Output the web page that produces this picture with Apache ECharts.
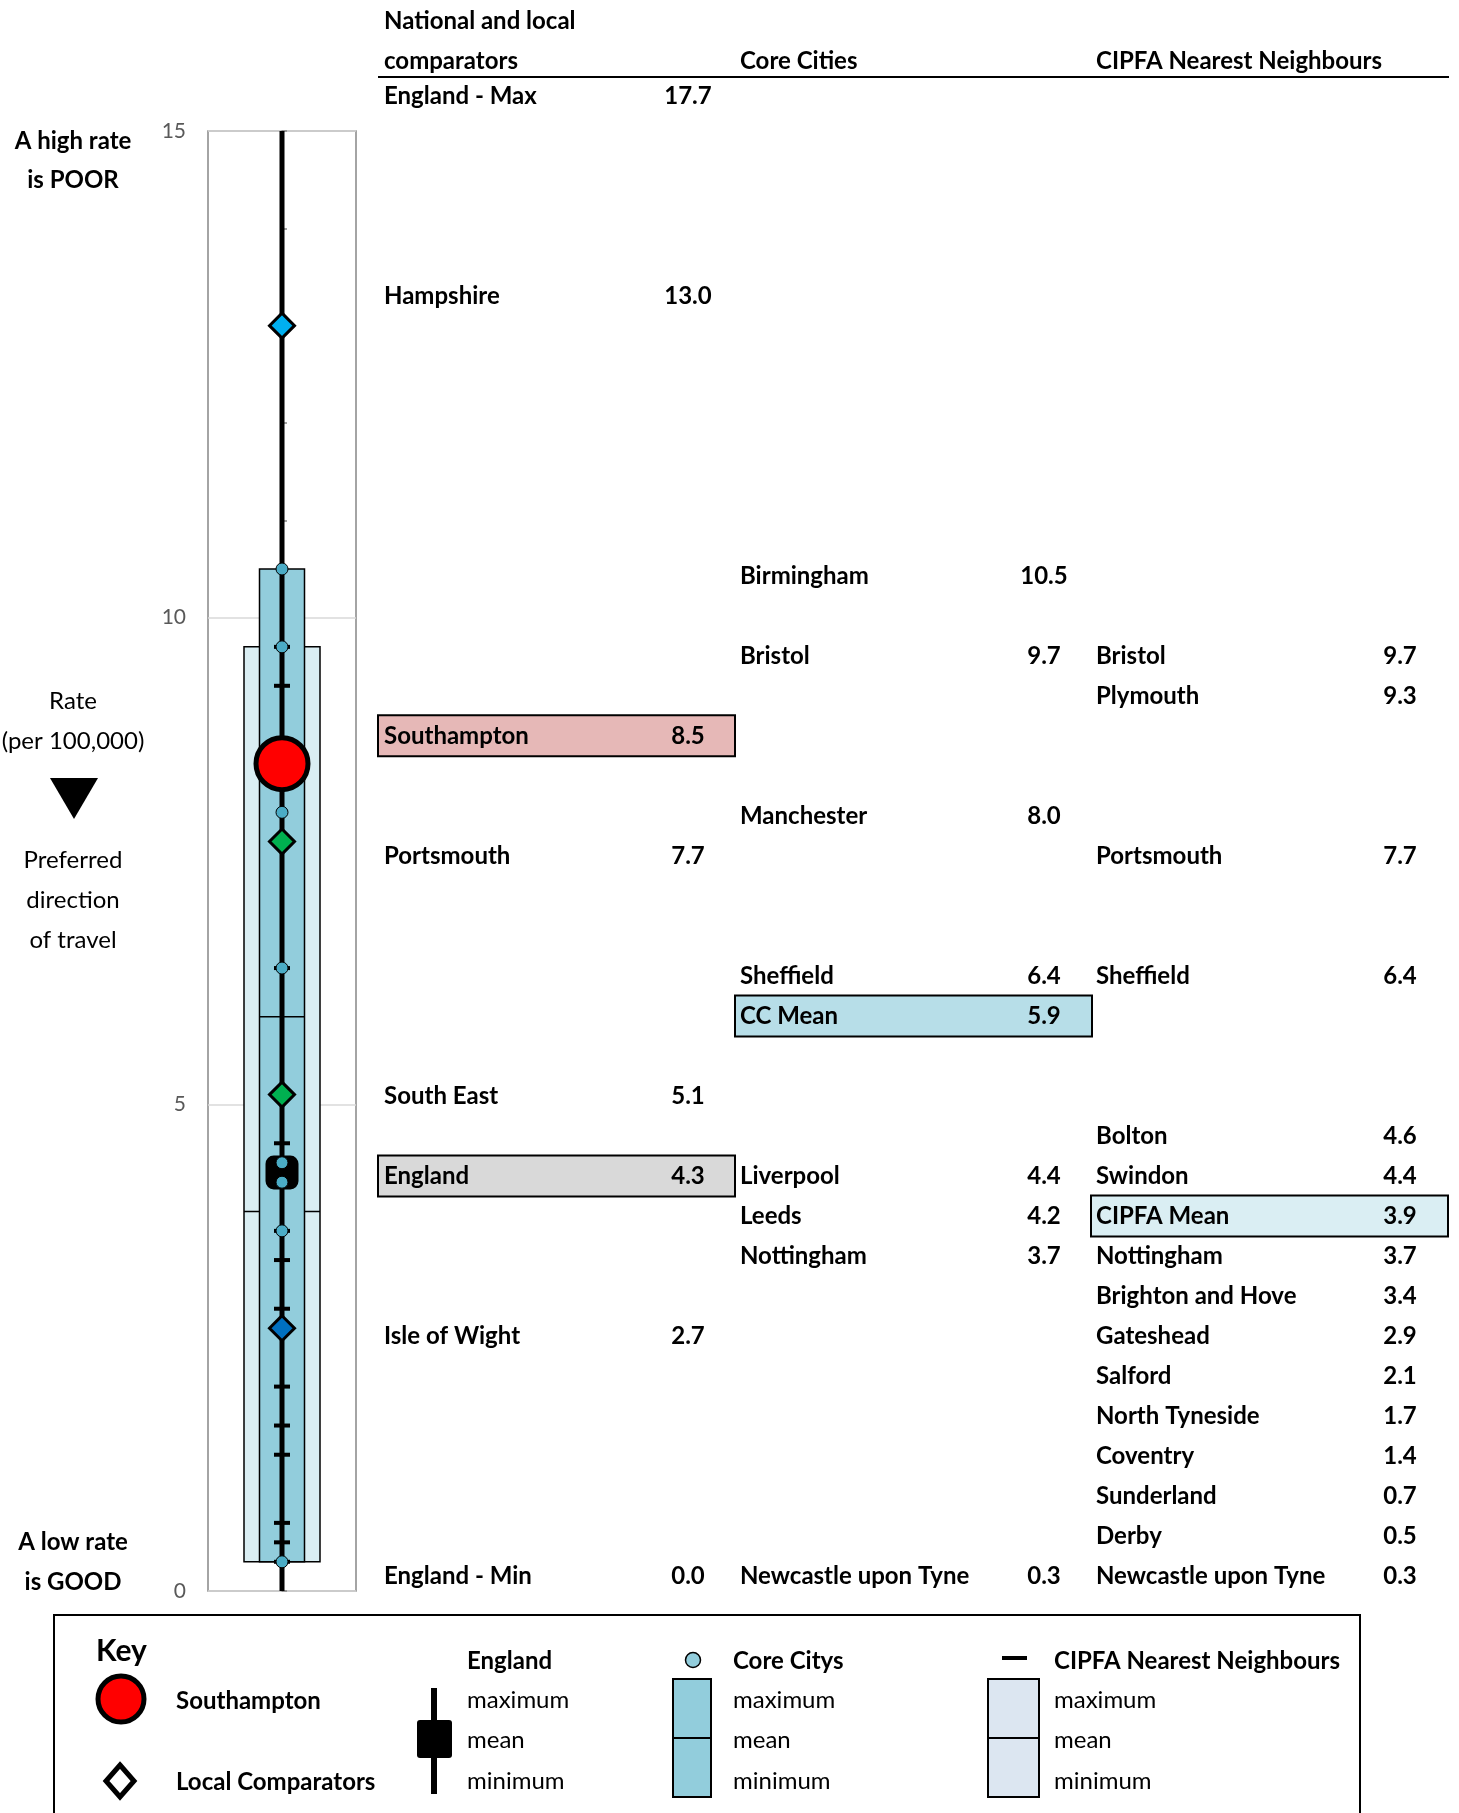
<!DOCTYPE html>
<html>
<head>
<meta charset="utf-8">
<script src="https://cdn.jsdelivr.net/npm/echarts@6/dist/echarts.min.js"></script>
<style>
  html, body { margin: 0; padding: 0; background: #fff; }
  #chart-container { width: 1459px; height: 1813px; }
</style>
</head>
<body>
<div id="chart-container"></div>
<script>
// national and local comparators
var nationalNames = ['England - Max', 'Hampshire', 'Southampton', 'Portsmouth', 'South East', 'England', 'Isle of Wight', 'England - Min'];
var nationalValues = [17.7, 13.0, 8.5, 7.7, 5.1, 4.3, 2.7, 0.0];
// core cities
var coreNames = ['Birmingham', 'Bristol', 'Manchester', 'Sheffield', 'CC Mean', 'Liverpool', 'Leeds', 'Nottingham', 'Newcastle upon Tyne'];
var coreValues = [10.5, 9.7, 8.0, 6.4, 5.9, 4.4, 4.2, 3.7, 0.3];
// CIPFA nearest neighbours
var cipfaNames = ['Bristol', 'Plymouth', 'Portsmouth', 'Sheffield', 'Bolton', 'Swindon', 'CIPFA Mean', 'Nottingham', 'Brighton and Hove', 'Gateshead', 'Salford', 'North Tyneside', 'Coventry', 'Sunderland', 'Derby', 'Newcastle upon Tyne'];
var cipfaValues = [9.7, 9.3, 7.7, 6.4, 4.6, 4.4, 3.9, 3.7, 3.4, 2.9, 2.1, 1.7, 1.4, 0.7, 0.5, 0.3];
var localNames = ['Hampshire', 'Portsmouth', 'South East', 'Isle of Wight'];
var yTicks = [0, 5, 10, 15];

// table layout (row slot of each entry)
var nationalRows = [0, 5, 16, 19, 25, 27, 31, 37];
var coreRows = [12, 14, 18, 22, 23, 27, 28, 29, 37];
var cipfaRows = [14, 15, 19, 22, 26, 27, 28, 29, 30, 31, 32, 33, 34, 35, 36, 37];
var localColors = { 'Hampshire': '#00B0F0', 'Portsmouth': '#00B050', 'South East': '#00B050', 'Isle of Wight': '#0070C0' };

function valueOf(names, values, name) { return values[names.indexOf(name)]; }

var engMax = valueOf(nationalNames, nationalValues, 'England - Max');
var engMin = valueOf(nationalNames, nationalValues, 'England - Min');
var engMean = valueOf(nationalNames, nationalValues, 'England');
var southampton = valueOf(nationalNames, nationalValues, 'Southampton');
var ccMean = valueOf(coreNames, coreValues, 'CC Mean');
var cipfaMean = valueOf(cipfaNames, cipfaValues, 'CIPFA Mean');
var coreCities = coreValues.filter(function (v, i) { return coreNames[i] !== 'CC Mean'; });
var cipfaAreas = cipfaValues.filter(function (v, i) { return cipfaNames[i] !== 'CIPFA Mean'; });

var FONT = 'Lato, "Open Sans", sans-serif';
var dom = document.getElementById('chart-container');
var myChart = echarts.init(dom, null, { renderer: 'canvas' });

function boxItem(width, fill) {
  return function (params, api) {
    var lo = api.coord([0, api.value(1)]);
    var mid = api.coord([0, api.value(2)]);
    var hi = api.coord([0, api.value(3)]);
    var x = lo[0] - width / 2;
    return {
      type: 'group',
      children: [
        { type: 'rect', shape: { x: x, y: hi[1], width: width, height: lo[1] - hi[1] },
          style: { fill: fill, stroke: '#000', lineWidth: 1.5 } },
        { type: 'line', shape: { x1: x, y1: mid[1], x2: x + width, y2: mid[1] },
          style: { stroke: '#000', lineWidth: 1.5 } }
      ]
    };
  };
}

// ---- table text ----
var ROW0 = 96, ROWH = 40.02;
var cols = [
  { names: nationalNames, values: nationalValues, rows: nationalRows, nameX: 384, valX: 688, boxX: 378 },
  { names: coreNames, values: coreValues, rows: coreRows, nameX: 740, valX: 1044, boxX: 735 },
  { names: cipfaNames, values: cipfaValues, rows: cipfaRows, nameX: 1096, valX: 1400, boxX: 1091 }
];
var highlight = { 'Southampton': '#E6B8B7', 'England': '#D9D9D9', 'CC Mean': '#B7DEE8', 'CIPFA Mean': '#DAEEF3' };
var graphics = [];
cols.forEach(function (c, ci) {
  c.names.forEach(function (n, i) {
    var y = ROW0 + c.rows[i] * ROWH;
    if (highlight[n]) {
      graphics.push({ type: 'rect', z: 1, shape: { x: c.boxX, y: y - 21, width: 357, height: 41 },
        style: { fill: highlight[n], stroke: '#000', lineWidth: 2 } });
    }
    graphics.push({ type: 'text', z: 2, x: c.nameX, y: y,
      style: { text: n, font: 'bold 24px ' + FONT, fill: '#000', align: 'left', verticalAlign: 'middle' } });
    graphics.push({ type: 'text', z: 2, x: c.valX, y: y,
      style: { text: c.values[i].toFixed(1), font: 'bold 24px ' + FONT, fill: '#000', align: 'center', verticalAlign: 'middle' } });
  });
});

function txt(t, x, y, bold, size, align) {
  return { type: 'text', z: 2, x: x, y: y,
    style: { text: t, font: (bold ? 'bold ' : '') + (size || 24) + 'px ' + FONT, fill: '#000',
      align: align || 'left', verticalAlign: 'middle' } };
}

// headers
graphics.push(txt('National and local', 384, 21, true));
graphics.push(txt('comparators', 384, 61, true));
graphics.push(txt('Core Cities', 740, 61, true));
graphics.push(txt('CIPFA Nearest Neighbours', 1096, 61, true));
graphics.push({ type: 'line', z: 2, shape: { x1: 378, y1: 77, x2: 1449, y2: 77 }, style: { stroke: '#000', lineWidth: 2 } });

// left annotations
graphics.push(txt('A high rate', 73, 141, true, 24, 'center'));
graphics.push(txt('is POOR', 73, 180, true, 24, 'center'));
graphics.push(txt('Rate', 73, 701, false, 24, 'center'));
graphics.push(txt('(per 100,000)', 73, 741, false, 24, 'center'));
graphics.push({ type: 'polygon', z: 2, shape: { points: [[50, 778], [98, 778], [74, 819]] }, style: { fill: '#000' } });
graphics.push(txt('Preferred', 73, 860, false, 24, 'center'));
graphics.push(txt('direction', 73, 900, false, 24, 'center'));
graphics.push(txt('of travel', 73, 940, false, 24, 'center'));
graphics.push(txt('A low rate', 73, 1542, true, 24, 'center'));
graphics.push(txt('is GOOD', 73, 1582, true, 24, 'center'));

// key
graphics.push({ type: 'rect', z: 1, shape: { x: 54, y: 1615, width: 1306, height: 260 }, style: { fill: 'none', stroke: '#000', lineWidth: 2 } });
graphics.push(txt('Key', 96, 1651, true, 30));
graphics.push({ type: 'circle', z: 2, shape: { cx: 121, cy: 1699, r: 23 }, style: { fill: '#FF0000', stroke: '#000', lineWidth: 5 } });
graphics.push(txt('Southampton', 176, 1701, true));
graphics.push({ type: 'polygon', z: 2, shape: { points: [[120, 1765], [134, 1781], [120, 1797], [106, 1781]] }, style: { fill: '#fff', stroke: '#000', lineWidth: 5 } });
graphics.push(txt('Local Comparators', 176, 1782, true));
graphics.push({ type: 'line', z: 2, shape: { x1: 434, y1: 1688, x2: 434, y2: 1794 }, style: { stroke: '#000', lineWidth: 6 } });
graphics.push({ type: 'rect', z: 2, shape: { x: 417, y: 1720, width: 35, height: 38, r: 3 }, style: { fill: '#000' } });
graphics.push(txt('England', 467, 1661, true));
graphics.push({ type: 'circle', z: 2, shape: { cx: 693, cy: 1660, r: 7.5 }, style: { fill: '#92CDDC', stroke: '#000', lineWidth: 1.5 } });
graphics.push({ type: 'rect', z: 2, shape: { x: 673, y: 1679, width: 38, height: 118 }, style: { fill: '#92CDDC', stroke: '#000', lineWidth: 2 } });
graphics.push({ type: 'line', z: 2, shape: { x1: 673, y1: 1738, x2: 711, y2: 1738 }, style: { stroke: '#000', lineWidth: 2 } });
graphics.push(txt('Core Citys', 733, 1661, true));
graphics.push({ type: 'rect', z: 2, shape: { x: 1002, y: 1656, width: 25, height: 4 }, style: { fill: '#000' } });
graphics.push({ type: 'rect', z: 2, shape: { x: 988, y: 1679, width: 51, height: 118 }, style: { fill: '#DCE6F1', stroke: '#000', lineWidth: 2 } });
graphics.push({ type: 'line', z: 2, shape: { x1: 988, y1: 1738, x2: 1039, y2: 1738 }, style: { stroke: '#000', lineWidth: 2 } });
graphics.push(txt('CIPFA Nearest Neighbours', 1054, 1661, true));
[467, 733, 1054].forEach(function (x) {
  graphics.push(txt('maximum', x, 1700, false));
  graphics.push(txt('mean', x, 1740, false));
  graphics.push(txt('minimum', x, 1781, false));
});

var option = {
  animation: false,
  backgroundColor: '#fff',
  grid: { left: 208, top: 131, width: 148, height: 1460, show: true, borderColor: '#868686', borderWidth: 1.5 },
  xAxis: { type: 'value', min: -1, max: 1, show: false },
  yAxis: {
    type: 'value', min: yTicks[0], max: yTicks[yTicks.length - 1], interval: 5,
    axisLine: { show: true, lineStyle: { color: '#868686', width: 1.5 } },
    axisTick: { show: true, inside: true, length: 5, lineStyle: { color: '#868686', width: 1.5 } },
    minorTick: { show: true, splitNumber: 5, length: 5, lineStyle: { color: '#868686', width: 1.5 } },
    splitLine: { show: true, lineStyle: { color: '#D9D9D9', width: 1.5 } },
    axisLabel: { color: '#595959', fontSize: 21, margin: 22, fontFamily: FONT }
  },
  graphic: graphics,
  series: [
    { name: 'CIPFA', type: 'custom', z: 1, renderItem: boxItem(76, '#DAEEF3'),
      encode: { x: 0, y: [1, 2, 3] },
      data: [[0, Math.min.apply(null, cipfaAreas), cipfaMean, Math.max.apply(null, cipfaAreas)]] },
    { name: 'Core', type: 'custom', z: 2, renderItem: boxItem(45, '#92CDDC'),
      encode: { x: 0, y: [1, 2, 3] },
      data: [[0, Math.min.apply(null, coreCities), ccMean, Math.max.apply(null, coreCities)]] },
    { name: 'England range', type: 'custom', z: 3,
      encode: { x: 0, y: [1, 2] },
      renderItem: function (params, api) {
        var cs = params.coordSys;
        var lo = api.coord([0, api.value(1)]);
        var hi = api.coord([0, api.value(2)]);
        return { type: 'line', shape: { x1: lo[0], y1: Math.min(lo[1], cs.y + cs.height), x2: hi[0], y2: Math.max(hi[1], cs.y) },
          style: { stroke: '#000', lineWidth: 5 } };
      },
      data: [[0, engMin, engMax]] },
    { name: 'England mean', type: 'scatter', z: 4, symbol: 'roundRect', symbolSize: [33, 34],
      itemStyle: { color: '#000', opacity: 1 }, data: [[0, engMean]] },
    { name: 'CIPFA NN', type: 'scatter', z: 5, symbol: 'rect', symbolSize: [16, 4],
      itemStyle: { color: '#000', opacity: 1 }, data: cipfaAreas.map(function (v) { return [0, v]; }) },
    { name: 'Core Cities', type: 'scatter', z: 6, symbol: 'circle', symbolSize: 12,
      itemStyle: { color: '#4BACC6', borderColor: '#000', borderWidth: 1, opacity: 1 },
      data: coreCities.map(function (v) { return [0, v]; }) },
    { name: 'Local comparators', type: 'scatter', z: 7, symbol: 'diamond', symbolSize: [25, 25],
      data: localNames.map(function (n) {
        return { value: [0, valueOf(nationalNames, nationalValues, n)],
          itemStyle: { color: localColors[n], borderColor: '#000', borderWidth: 3, opacity: 1 } };
      }) },
    { name: 'Southampton', type: 'scatter', z: 8, symbol: 'circle', symbolSize: 52,
      itemStyle: { color: '#FF0000', borderColor: '#000', borderWidth: 5, opacity: 1 },
      data: [[0, southampton]] }
  ]
};

myChart.setOption(option);
window.addEventListener('resize', myChart.resize);
</script>
</body>
</html>
